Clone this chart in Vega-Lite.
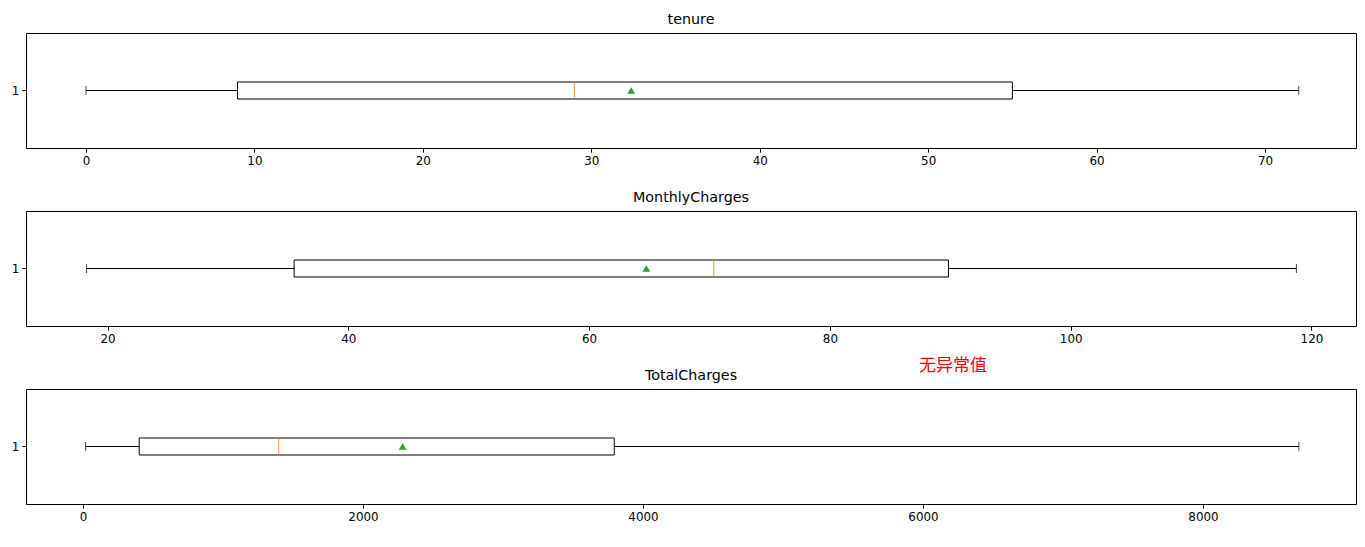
{
  "$schema": "https://vega.github.io/schema/vega-lite/v6.json",
  "padding": {"left": 10, "top": 12, "right": 9, "bottom": 5},
  "spacing": 63,
  "bounds": "flush",
  "config": {
    "font": "DejaVu Sans",
    "view": {"stroke": "#000000", "strokeWidth": 1},
    "title": {"fontSize": 14.3, "fontWeight": "normal", "font": "DejaVu Sans", "color": "#000000", "offset": 6, "baseline": "alphabetic"},
    "axis": {"labelFont": "DejaVu Sans", "labelFontSize": 11.9, "labelColor": "#000000", "tickColor": "#000000", "tickSize": 4.2, "labelPadding": 3, "grid": false, "domain": false, "title": null}
  },
  "vconcat": [
    {
      "title": "tenure",
      "width": 1330,
      "height": 115,
      "data": {"values": [{"g": "1", "min": 0, "q1": 9, "median": 29, "mean": 32.37, "q3": 55, "max": 72}]},
      "encoding": {
        "y": {"field": "g", "type": "nominal", "scale": {"paddingInner": 0, "paddingOuter": 0}, "axis": {"labelAngle": 0}}
      },
      "layer": [
        {"mark": {"type": "rule", "color": "#000000", "strokeWidth": 1}, "encoding": {"x": {"field": "min", "type": "quantitative", "scale": {"domain": [-3.56, 75.4], "nice": false, "zero": false}, "axis": {"values": [0, 10, 20, 30, 40, 50, 60, 70], "format": "d"}}, "x2": {"field": "q1"}}},
        {"mark": {"type": "rule", "color": "#000000", "strokeWidth": 1}, "encoding": {"x": {"field": "q3", "type": "quantitative"}, "x2": {"field": "max"}}},
        {"mark": {"type": "bar", "fill": "#ffffff", "stroke": "#000000", "strokeWidth": 1, "height": 17}, "encoding": {"x": {"field": "q1", "type": "quantitative"}, "x2": {"field": "q3"}}},
        {"mark": {"type": "tick", "color": "#000000", "orient": "vertical", "size": 9, "thickness": 1}, "encoding": {"x": {"field": "min", "type": "quantitative"}}},
        {"mark": {"type": "tick", "color": "#000000", "orient": "vertical", "size": 9, "thickness": 1}, "encoding": {"x": {"field": "max", "type": "quantitative"}}},
        {"mark": {"type": "tick", "color": "#ff7f0e", "orient": "vertical", "size": 16, "thickness": 1.2}, "encoding": {"x": {"field": "median", "type": "quantitative"}}},
        {"mark": {"type": "point", "shape": "triangle-up", "filled": true, "color": "#2ca02c", "opacity": 1, "size": 60}, "encoding": {"x": {"field": "mean", "type": "quantitative"}}}
      ]
    },
    {
      "title": "MonthlyCharges",
      "width": 1330,
      "height": 115,
      "data": {"values": [{"g": "1", "min": 18.25, "q1": 35.5, "median": 70.35, "mean": 64.76, "q3": 89.85, "max": 118.75, "note": "无异常值", "notex": 90.23}]},
      "encoding": {
        "y": {"field": "g", "type": "nominal", "scale": {"paddingInner": 0, "paddingOuter": 0}, "axis": {"labelAngle": 0}}
      },
      "layer": [
        {"mark": {"type": "rule", "color": "#000000", "strokeWidth": 1}, "encoding": {"x": {"field": "min", "type": "quantitative", "scale": {"domain": [13.23, 123.7], "nice": false, "zero": false}, "axis": {"values": [20, 40, 60, 80, 100, 120], "format": "d"}}, "x2": {"field": "q1"}}},
        {"mark": {"type": "rule", "color": "#000000", "strokeWidth": 1}, "encoding": {"x": {"field": "q3", "type": "quantitative"}, "x2": {"field": "max"}}},
        {"mark": {"type": "bar", "fill": "#ffffff", "stroke": "#000000", "strokeWidth": 1, "height": 17}, "encoding": {"x": {"field": "q1", "type": "quantitative"}, "x2": {"field": "q3"}}},
        {"mark": {"type": "tick", "color": "#000000", "orient": "vertical", "size": 9, "thickness": 1}, "encoding": {"x": {"field": "min", "type": "quantitative"}}},
        {"mark": {"type": "tick", "color": "#000000", "orient": "vertical", "size": 9, "thickness": 1}, "encoding": {"x": {"field": "max", "type": "quantitative"}}},
        {"mark": {"type": "tick", "color": "#ff7f0e", "orient": "vertical", "size": 16, "thickness": 1.2}, "encoding": {"x": {"field": "median", "type": "quantitative"}}},
        {"mark": {"type": "point", "shape": "triangle-up", "filled": true, "color": "#2ca02c", "opacity": 1, "size": 60}, "encoding": {"x": {"field": "mean", "type": "quantitative"}}},
        {"mark": {"type": "text", "color": "#ff0000", "font": "Noto Sans CJK SC", "fontSize": 17, "baseline": "middle", "align": "center", "dy": 97.5, "clip": false}, "encoding": {"x": {"field": "notex", "type": "quantitative"}, "text": {"field": "note"}}}
      ]
    },
    {
      "title": "TotalCharges",
      "width": 1330,
      "height": 115,
      "data": {"values": [{"g": "1", "min": 18.8, "q1": 401.45, "median": 1397.47, "mean": 2283.3, "q3": 3794.74, "max": 8684.8}]},
      "encoding": {
        "y": {"field": "g", "type": "nominal", "scale": {"paddingInner": 0, "paddingOuter": 0}, "axis": {"labelAngle": 0}}
      },
      "layer": [
        {"mark": {"type": "rule", "color": "#000000", "strokeWidth": 1}, "encoding": {"x": {"field": "min", "type": "quantitative", "scale": {"domain": [-407, 9093], "nice": false, "zero": false}, "axis": {"values": [0, 2000, 4000, 6000, 8000], "format": "d"}}, "x2": {"field": "q1"}}},
        {"mark": {"type": "rule", "color": "#000000", "strokeWidth": 1}, "encoding": {"x": {"field": "q3", "type": "quantitative"}, "x2": {"field": "max"}}},
        {"mark": {"type": "bar", "fill": "#ffffff", "stroke": "#000000", "strokeWidth": 1, "height": 17}, "encoding": {"x": {"field": "q1", "type": "quantitative"}, "x2": {"field": "q3"}}},
        {"mark": {"type": "tick", "color": "#000000", "orient": "vertical", "size": 9, "thickness": 1}, "encoding": {"x": {"field": "min", "type": "quantitative"}}},
        {"mark": {"type": "tick", "color": "#000000", "orient": "vertical", "size": 9, "thickness": 1}, "encoding": {"x": {"field": "max", "type": "quantitative"}}},
        {"mark": {"type": "tick", "color": "#ff7f0e", "orient": "vertical", "size": 16, "thickness": 1.2}, "encoding": {"x": {"field": "median", "type": "quantitative"}}},
        {"mark": {"type": "point", "shape": "triangle-up", "filled": true, "color": "#2ca02c", "opacity": 1, "size": 60}, "encoding": {"x": {"field": "mean", "type": "quantitative"}}}
      ]
    }
  ]
}
